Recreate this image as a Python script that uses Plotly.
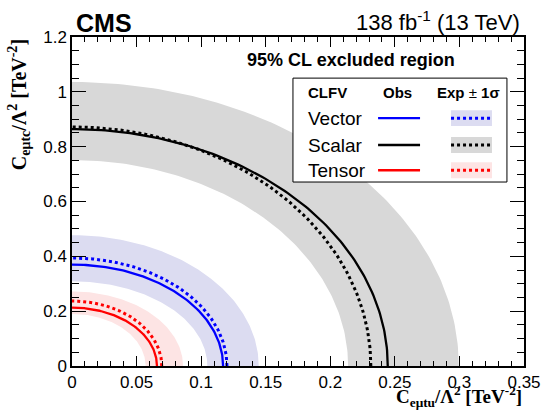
import numpy as np
import plotly.graph_objects as go

# ---- data ----
models = ["Vector", "Scalar", "Tensor"]
obs_x = [0.117, 0.2445, 0.0658]      # observed limit, x intercept
obs_y = [0.370, 0.864, 0.213]        # observed limit, y intercept
exp_x = [0.120, 0.2314, 0.0695]      # expected limit, x intercept
exp_y = [0.394, 0.872, 0.237]        # expected limit, y intercept
band_lo_x = [0.1048, 0.2138, 0.057]  # -1 sigma
band_lo_y = [0.309, 0.751, 0.190]
band_hi_x = [0.1446, 0.2995, 0.086]  # +1 sigma
band_hi_y = [0.477, 1.036, 0.272]
x_ticks = [0, 0.05, 0.1, 0.15, 0.2, 0.25, 0.3, 0.35]
x_tick_text = ["0", "0.05", "0.1", "0.15", "0.2", "0.25", "0.3", "0.35"]
y_ticks = [0, 0.2, 0.4, 0.6, 0.8, 1.0, 1.2]
y_tick_text = ["0", "0.2", "0.4", "0.6", "0.8", "1", "1.2"]

line_colors = {"Vector": "#0000ff", "Scalar": "#000000", "Tensor": "#ff0000"}
band_colors = {"Vector": "#dcdcf1", "Scalar": "#d8d8d8", "Tensor": "#fde4e4"}

t = np.linspace(0, np.pi / 2, 120)


def arc(a, b):
    return a * np.cos(t), b * np.sin(t)


fig = go.Figure()

# bands
for i, m in enumerate(models):
    xo, yo = arc(band_hi_x[i], band_hi_y[i])
    xi, yi = arc(band_lo_x[i], band_lo_y[i])
    xs = np.concatenate([xo, xi[::-1], xo[:1]])
    ys = np.concatenate([yo, yi[::-1], yo[:1]])
    fig.add_trace(go.Scatter(x=xs, y=ys, mode="lines", fill="toself",
                             fillcolor=band_colors[m], line=dict(width=0),
                             hoverinfo="skip", showlegend=False))

# lines
for i, m in enumerate(models):
    xe, ye = arc(exp_x[i], exp_y[i])
    fig.add_trace(go.Scatter(x=xe, y=ye, mode="lines",
                             line=dict(color=line_colors[m], width=3, dash="dot"),
                             showlegend=False))
    xo, yo = arc(obs_x[i], obs_y[i])
    fig.add_trace(go.Scatter(x=xo, y=yo, mode="lines",
                             line=dict(color=line_colors[m], width=2.3),
                             showlegend=False))

# ---- custom legend box (data coordinates) ----
shapes = []
annotations = []
shapes.append(dict(type="rect", xref="x", yref="y", x0=0.1711, x1=0.3368,
                   y0=0.671, y1=1.050, line=dict(color="black", width=1),
                   fillcolor="white", layer="above"))
hdr_y = 0.999
row_y = [0.904, 0.806, 0.714]
bold_font = dict(family="Liberation Sans, Arial", size=15, color="black")
annotations += [
    dict(x=0.1815, y=hdr_y, xref="x", yref="y", text="<b>CLFV</b>", showarrow=False,
         xanchor="left", yanchor="middle", font=bold_font),
    dict(x=0.2517, y=hdr_y, xref="x", yref="y", text="<b>Obs</b>", showarrow=False,
         xanchor="center", yanchor="middle", font=bold_font),
    dict(x=0.3070, y=hdr_y, xref="x", yref="y", text="<b>Exp</b> ± <b>1σ</b>",
         showarrow=False, xanchor="center", yanchor="middle", font=bold_font),
]
for i, m in enumerate(models):
    yy = row_y[i]
    annotations.append(dict(x=0.1815, y=yy, xref="x", yref="y", text=m,
                            showarrow=False, xanchor="left", yanchor="middle",
                            font=dict(family="Liberation Sans, Arial", size=19,
                                      color="black")))
    shapes.append(dict(type="line", xref="x", yref="y", x0=0.2370, x1=0.2695,
                       y0=yy, y1=yy, line=dict(color=line_colors[m], width=2.3),
                       layer="above"))
    shapes.append(dict(type="rect", xref="x", yref="y", x0=0.2935, x1=0.3252,
                       y0=yy - 0.029, y1=yy + 0.029, line=dict(width=0),
                       fillcolor=band_colors[m], layer="above"))
    shapes.append(dict(type="line", xref="x", yref="y", x0=0.2935, x1=0.3252,
                       y0=yy, y1=yy,
                       line=dict(color=line_colors[m], width=3, dash="dot"),
                       layer="above"))

# texts around the frame
annotations += [
    dict(x=0.134, y=1.116, xref="x", yref="y", text="<b>95% CL excluded region</b>",
         showarrow=False, xanchor="left", yanchor="middle",
         font=dict(family="Liberation Sans, Arial", size=18, color="black")),
    dict(x=0.004, y=1.043, xref="paper", yref="paper", text="<b>CMS</b>",
         showarrow=False, xanchor="left", yanchor="middle",
         font=dict(family="Liberation Sans, Arial", size=25, color="black")),
    dict(x=0.996, y=1.049, xref="paper", yref="paper",
         text="138 fb<sup>-1</sup> (13 TeV)",
         showarrow=False, xanchor="right", yanchor="middle",
         font=dict(family="Liberation Sans, Arial", size=22, color="black")),
    dict(x=1.0, y=-0.141, xref="paper", yref="paper",
         text="<b>C<sub>eμtu</sub>/Λ<sup>2</sup> [TeV<sup>-2</sup>]</b>",
         showarrow=False, xanchor="right", yanchor="bottom",
         font=dict(family="Liberation Serif, Times New Roman", size=19,
                   color="black")),
    dict(x=-0.118, y=1.0, xref="paper", yref="paper", textangle=-90,
         text="<b>C<sub>eμtc</sub>/Λ<sup>2</sup> [TeV<sup>-2</sup>]</b>",
         showarrow=False, xanchor="center", yanchor="top",
         font=dict(family="Liberation Serif, Times New Roman", size=20,
                   color="black")),
]

axis_font = dict(family="Liberation Sans, Arial", size=17, color="black")
fig.update_layout(
    width=544, height=413,
    margin=dict(l=72, r=20, t=37, b=47),
    paper_bgcolor="white", plot_bgcolor="white",
    shapes=shapes, annotations=annotations,
    showlegend=False,
    xaxis=dict(range=[0, 0.35], tickvals=x_ticks, ticktext=x_tick_text,
               ticks="inside", ticklen=10, tickwidth=1, tickcolor="black",
               minor=dict(dtick=0.01, ticks="inside", ticklen=5, tickcolor="black",
                          showgrid=False),
               showline=True, linecolor="black", linewidth=1.5, mirror="allticks",
               showgrid=False, zeroline=False, tickfont=axis_font,
               automargin=False),
    yaxis=dict(range=[0, 1.2], tickvals=y_ticks, ticktext=y_tick_text,
               ticks="inside", ticklen=14, tickwidth=1, tickcolor="black",
               minor=dict(dtick=0.05, ticks="inside", ticklen=7, tickcolor="black",
                          showgrid=False),
               showline=True, linecolor="black", linewidth=1.5, mirror="allticks",
               showgrid=False, zeroline=False, tickfont=axis_font,
               automargin=False),
)

fig.write_html(
    "out.html",
    config={"displayModeBar": False},
    post_script="document.body.style.margin='0';document.body.style.overflow='hidden';",
)
